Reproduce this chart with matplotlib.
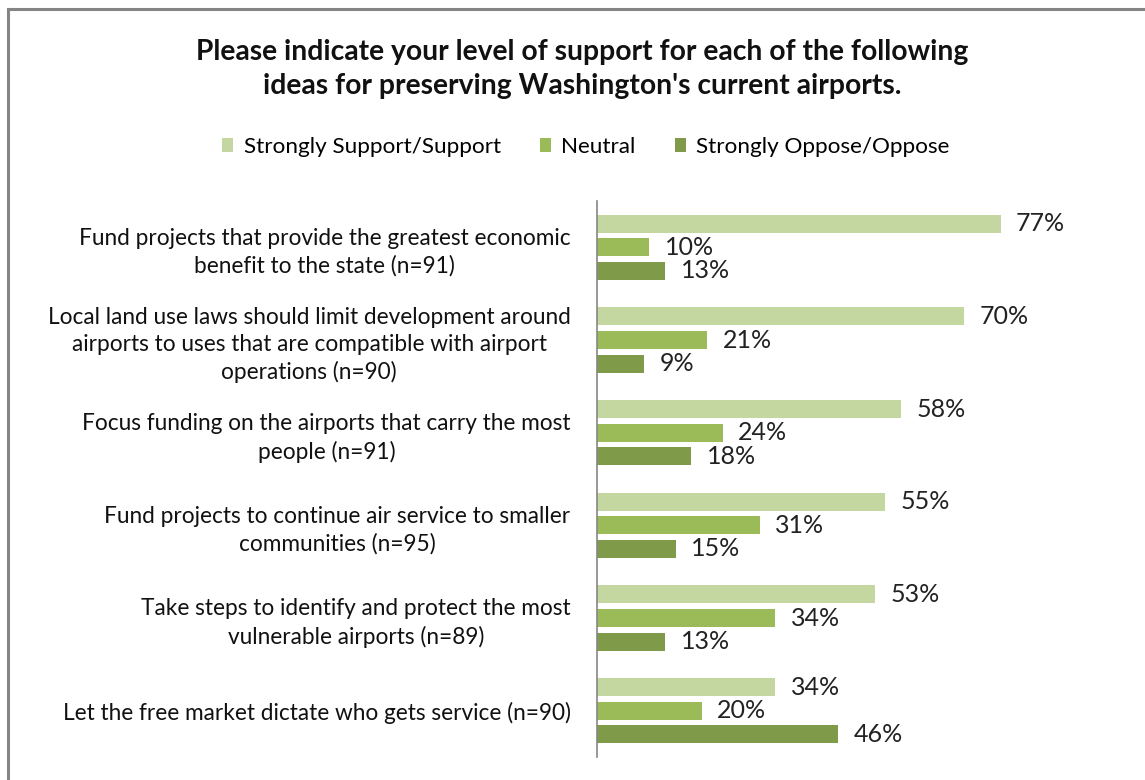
import matplotlib
matplotlib.use("Agg")
import matplotlib.pyplot as plt
from matplotlib.lines import Line2D
from matplotlib.patches import Patch

plt.rcParams['font.family'] = ['Lato', 'DejaVu Sans']

categories = [
    "Fund projects that provide the greatest economic\nbenefit to the state (n=91)",
    "Local land use laws should limit development around\nairports to uses that are compatible with airport\noperations (n=90)",
    "Focus funding on the airports that carry the most\npeople (n=91)",
    "Fund projects to continue air service to smaller\ncommunities (n=95)",
    "Take steps to identify and protect the most\nvulnerable airports (n=89)",
    "Let the free market dictate who gets service (n=90)",
]
series_names = ["Strongly Support/Support", "Neutral", "Strongly Oppose/Oppose"]
support = [77, 70, 58, 55, 53, 34]
neutral = [10, 21, 24, 31, 34, 20]
oppose = [13, 9, 18, 15, 13, 46]
colors = ["#C4D7A0", "#9BBB59", "#7F9A48"]

title = ("Please indicate your level of support for each of the following\n"
         "ideas for preserving Washington's current airports.")

W, H = 1145, 780
fig = plt.figure(figsize=(W / 100, H / 100), dpi=100)
ax = fig.add_axes([597 / W, 1 - 757 / H, 472 / W, 556 / H])

bar_h = 0.195
offsets = [-0.254, 0.0, 0.254]
idx = list(range(len(categories)))
for series, off, col in zip([support, neutral, oppose], offsets, colors):
    ys = [i + off for i in idx]
    bars = ax.barh(ys, series, height=bar_h, color=col, edgecolor="none")
    for b, v in zip(bars, series):
        ax.annotate(f"{v}%", xy=(b.get_width(), b.get_y() + b.get_height() / 2),
                    xytext=(11, 0), textcoords="offset points",
                    ha="left", va="center", fontsize=18, color="#222222")

ax.set_xlim(0, 90)
ax.set_ylim(len(categories) - 0.5, -0.5)
ax.set_yticks(idx)
ax.set_yticklabels(categories, fontsize=16.3, color="#111111",
                   multialignment="center", linespacing=1.35)
ax.tick_params(axis="y", length=0, pad=19)
ax.set_xticks([])
for s in ["top", "right", "bottom"]:
    ax.spines[s].set_visible(False)
ax.spines["left"].set_color("#868686")
ax.spines["left"].set_linewidth(1.2)

fig.text(582 / W, 1 - 69 / H, title, ha="center", va="center",
         fontsize=20.3, fontweight="bold", color="#111111", linespacing=1.35)

handles = [Patch(facecolor=c, edgecolor="none", label=n) for c, n in zip(colors, series_names)]
fig.legend(handles=handles, loc="center", bbox_to_anchor=(586 / W, 1 - 147 / H),
           ncol=3, frameon=False, fontsize=16.2, handlelength=0.5, handleheight=0.6,
           handletextpad=0.45, columnspacing=1.75)

# outer chart frame (top and left edges)
fig.add_artist(Line2D([8 / W, 8 / W], [0, 1 - 9 / H], transform=fig.transFigure,
                      color="#858585", linewidth=2.2))
fig.add_artist(Line2D([8 / W, 1], [1 - 9 / H, 1 - 9 / H], transform=fig.transFigure,
                      color="#858585", linewidth=2.2))

fig.savefig("out.png", dpi=100, facecolor="white")
